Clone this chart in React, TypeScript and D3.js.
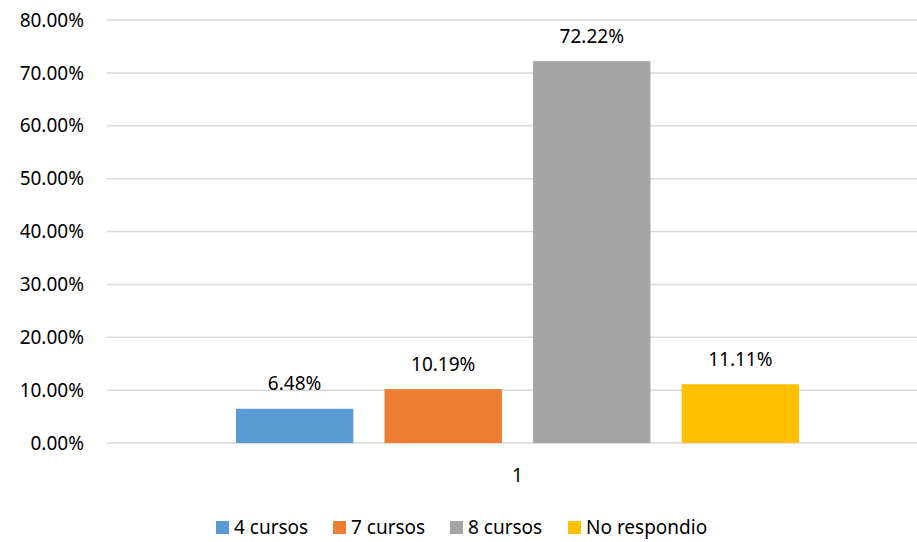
import React from 'react';
import * as d3 from 'd3';

const categories = ['1'];
const seriesNames = ['4 cursos', '7 cursos', '8 cursos', 'No respondio'];
const seriesValues = [6.48, 10.19, 72.22, 11.11];
const seriesColors = ['#5B9BD5', '#ED7D31', '#A5A5A5', '#FFC000'];
const yTicks = [0, 10, 20, 30, 40, 50, 60, 70, 80];

const W = 917;
const H = 542;
const font = '"Noto Sans", "Open Sans", sans-serif';
const fs = 19;

const App: React.FC = () => {
    const left = 107, right = 928, top = 20, bottom = 443;

    const y = d3.scaleLinear().domain([0, 80]).range([bottom, top]);
    const x0 = d3.scaleBand().domain(categories).range([left, right]).paddingOuter(0.229);
    const x1 = d3.scaleBand().domain(seriesNames)
        .range([0, x0.bandwidth()]).paddingInner(0.21).paddingOuter(0);

    // legend layout
    const legendX = [216, 333, 450, 568];

    return (
        <svg width={W} height={H} style={{ position: 'absolute', left: 0, top: 0, background: '#fff' }}
            fontFamily={font}>
            {yTicks.map(t => (
                <g key={t}>
                    <line x1={left} x2={W} y1={y(t)} y2={y(t)} stroke="#D9D9D9" strokeWidth={1.5} />
                    <text x={84} y={y(t)} dy="0.35em" textAnchor="end" fontSize={fs} fill="#000">
                        {t.toFixed(2)}%
                    </text>
                </g>
            ))}
            {categories.map(c => (
                <g key={c} transform={`translate(${x0(c)},0)`}>
                    {seriesNames.map((s, i) => {
                        const v = seriesValues[i];
                        const bx = x1(s)!;
                        const bw = x1.bandwidth();
                        return (
                            <g key={s}>
                                <rect x={bx} y={y(v)} width={bw} height={bottom - y(v)} fill={seriesColors[i]} />
                                <text x={bx + bw / 2} y={y(v) - 25} dy="0.35em" textAnchor="middle"
                                    fontSize={fs} fill="#000">
                                    {v.toFixed(2)}%
                                </text>
                            </g>
                        );
                    })}
                    <text x={x0.bandwidth() / 2} y={475} dy="0.35em" textAnchor="middle" fontSize={fs} fill="#000">
                        {c}
                    </text>
                </g>
            ))}
            {seriesNames.map((s, i) => (
                <g key={s} transform={`translate(${legendX[i]},521)`}>
                    <rect x={0} y={0} width={13} height={13} fill={seriesColors[i]} />
                    <text x={18} y={6.5} dy="0.35em" fontSize={fs} fill="#000">{s}</text>
                </g>
            ))}
        </svg>
    );
};

export default App;
